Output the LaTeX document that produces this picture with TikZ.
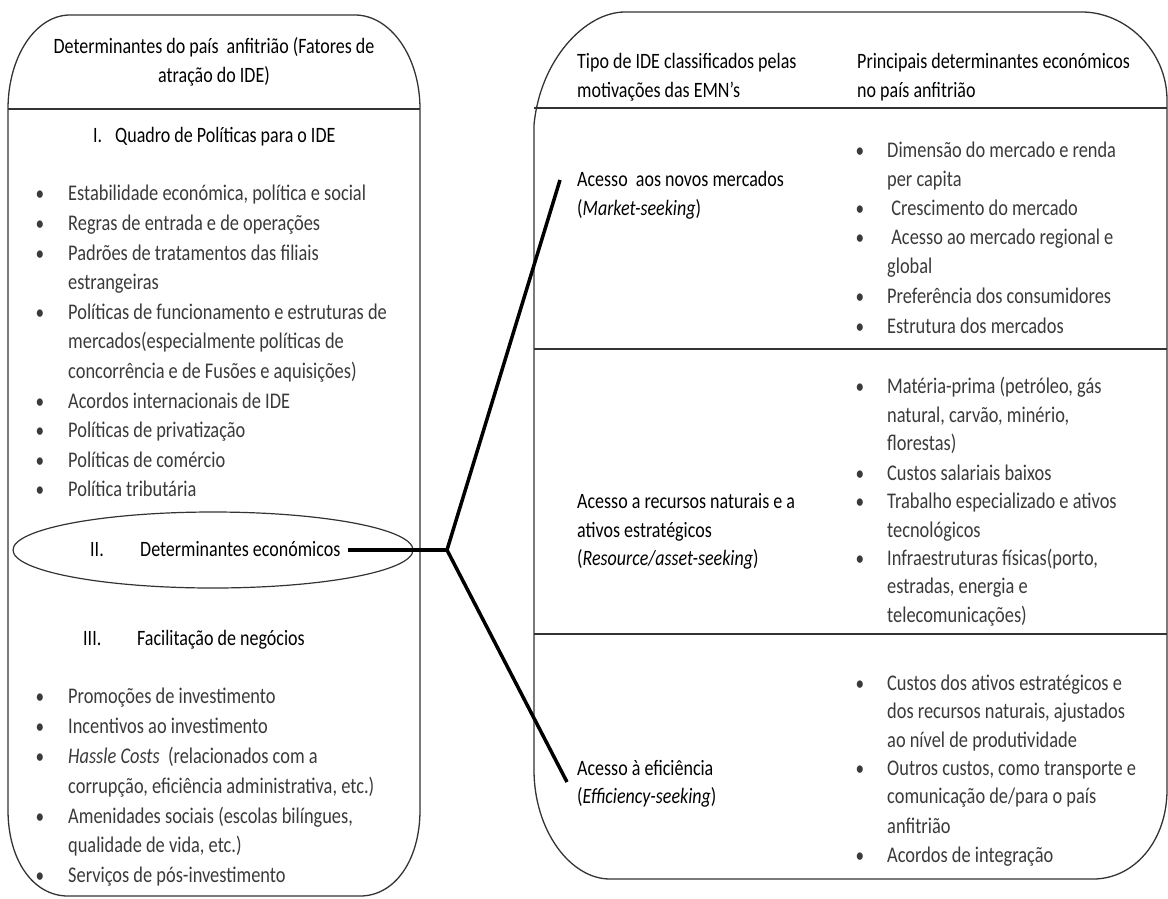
\documentclass[tikz,border=0pt]{standalone}
\usepackage{fontspec}
\setmainfont{Carlito}[FakeStretch=0.82]
\definecolor{bul}{HTML}{3A3A3A}
\newcommand\bitem[5]{\node[dot] (#1d) at (#2,#4) {•}; \node[bt] (#1) at (#3,#4) {#5};}
\newcommand\cont[4]{\node[bt] (#1) at (#2,#3) {#4};}
\newcommand\hdline[4]{\node[hd] (#1) at (#2,#3) {#4};}
\begin{document}
\begin{tikzpicture}[x=1pt,y=-1pt,
  hd/.style={inner sep=0,anchor=base west,font=\fontsize{21.95}{24}\selectfont,text=black},
  bt/.style={inner sep=0,anchor=base west,font=\fontsize{22.4}{24}\selectfont,text=bul},
  dot/.style={inner sep=0,anchor=base,font=\fontsize{21}{24}\selectfont,text=bul},
  frame/.style={draw=black!80,line width=1.3pt},
  conn/.style={line width=3.5pt,draw=black}]
\useasboundingbox (0,0) rectangle (1168,898);
% ---------- left box ----------
\draw[frame] (8,810) -- (8,109) .. controls (8,56) and (36,15) .. (70,15) -- (355,15)
  .. controls (390,15) and (420,56) .. (420,109) -- (420,810)
  .. controls (420,860) and (395,896) .. (360,896) -- (68,896)
  .. controls (33,896) and (8,860) .. (8,810) -- cycle;
\draw[frame] (8,109) -- (420,109);
\node[hd,anchor=base] (lh1) at (214,53) {Determinantes do país\ \ anfitrião (Fatores de};
\node[hd,anchor=base] (lh2) at (214,82) {atração do IDE)};
\hdline{q1n}{93}{142}{I.}
\hdline{q1}{115}{142}{Quadro de Políticas para o IDE}
\bitem{l1}{40}{68}{200}{Estabilidade económica, política e social}
\bitem{l2}{40}{68}{230}{Regras de entrada e de operações}
\bitem{l3}{40}{68}{260}{Padrões de tratamentos das filiais}
\cont{l3b}{68}{289}{estrangeiras}
\bitem{l4}{40}{68}{319}{Políticas de funcionamento e estruturas de}
\cont{l4b}{68}{348}{mercados(especialmente políticas de}
\cont{l4c}{68}{378}{concorrência e de Fusões e aquisições)}
\bitem{l5}{40}{68}{408}{Acordos internacionais de IDE}
\bitem{l6}{40}{68}{437}{Políticas de privatização}
\bitem{l7}{40}{68}{467}{Políticas de comércio}
\bitem{l8}{40}{68}{496}{Política tributária}
% ellipse
\draw[draw=black!80,line width=1.2pt] (213,550) ellipse [x radius=200,y radius=38];
\hdline{q2n}{90}{556}{II.}
\hdline{de}{140}{556}{Determinantes económicos}
\hdline{q3n}{83}{645}{III.}
\hdline{q3}{137}{645}{Facilitação de negócios}
\bitem{f1}{40}{68}{703}{Promoções de investimento}
\bitem{f2}{40}{68}{733}{Incentivos ao investimento}
\bitem{f3}{40}{68}{763}{\textit{Hassle Costs}\ \ (relacionados com a}
\cont{f3b}{68}{793}{corrupção, eficiência administrativa, etc.)}
\bitem{f4}{40}{68}{823}{Amenidades sociais (escolas bilíngues,}
\cont{f4b}{68}{852}{qualidade de vida, etc.)}
\bitem{f5}{40}{68}{882}{Serviços de pós-investimento}
% ---------- right box ----------
\draw[frame] (534,770) -- (534,125) .. controls (540,60) and (585,12) .. (625,12) -- (1082,12)
  .. controls (1125,12) and (1167,50) .. (1167,100) -- (1167,790)
  .. controls (1167,840) and (1135,879) .. (1093,879) -- (610,879)
  .. controls (570,879) and (534,830) .. (534,770) -- cycle;
\draw[frame] (534,108) -- (1167,108);
\draw[frame] (534,349) -- (1167,349);
\draw[frame] (534,634) -- (1167,634);
\hdline{rh1}{577}{68}{Tipo de IDE classificados pelas}
\hdline{rh2}{577}{97}{motivações das EMN’s}
\hdline{rh3}{857}{68}{Principais determinantes económicos}
\hdline{rh4}{857}{97}{no país anfitrião}
% row 1
\hdline{a1}{577}{186}{Acesso\ \ aos novos mercados}
\hdline{a1b}{577}{215}{(\textit{Market-seeking})}
\bitem{m1}{860}{887}{157}{Dimensão do mercado e renda}
\cont{m1b}{887}{186}{per capita}
\bitem{m2}{860}{887}{215}{\ Crescimento do mercado}
\bitem{m3}{860}{887}{244}{\ Acesso ao mercado regional e}
\cont{m3b}{887}{273}{global}
\bitem{m4}{860}{887}{303}{Preferência dos consumidores}
\bitem{m5}{860}{887}{333}{Estrutura dos mercados}
% row 2
\hdline{a2}{577}{508}{Acesso a recursos naturais e a}
\hdline{a2b}{577}{537}{ativos estratégicos}
\hdline{a2c}{577}{565}{(\textit{Resource/asset-seeking})}
\bitem{r1}{860}{887}{393}{Matéria-prima (petróleo, gás}
\cont{r1b}{887}{422}{natural, carvão, minério,}
\cont{r1c}{887}{450}{florestas)}
\bitem{r2}{860}{887}{480}{Custos salariais baixos}
\bitem{r3}{860}{887}{508}{Trabalho especializado e ativos}
\cont{r3b}{887}{537}{tecnológicos}
\bitem{r4}{860}{887}{565}{Infraestruturas físicas(porto,}
\cont{r4b}{887}{593}{estradas, energia e}
\cont{r4c}{887}{622}{telecomunicações)}
% row 3
\hdline{a3}{577}{775}{Acesso à eficiência}
\hdline{a3b}{577}{803}{(\textit{Efficiency-seeking})}
\bitem{e1}{860}{887}{690}{Custos dos ativos estratégicos e}
\cont{e1b}{887}{718}{dos recursos naturais, ajustados}
\cont{e1c}{887}{747}{ao nível de produtividade}
\bitem{e2}{860}{887}{775}{Outros custos, como transporte e}
\cont{e2b}{887}{803}{comunicação de/para o país}
\cont{e2c}{887}{833}{anfitrião}
\bitem{e3}{860}{887}{862}{Acordos de integração}
% ---------- connector ----------
\coordinate (j) at (447,550);
\coordinate (up) at (560,180);
\coordinate (dn) at (567,782);
\path (de.east) ++(7,0) coordinate (c0);
\draw[conn] (c0 |- j) -- (j);
\draw[conn] (up) -- (j) -- (dn);
\end{tikzpicture}
\end{document}
